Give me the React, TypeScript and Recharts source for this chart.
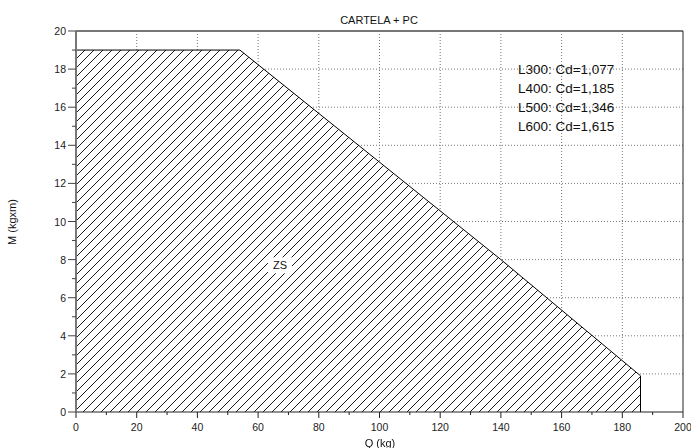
import { ComposedChart, Area, XAxis, YAxis, CartesianGrid, ReferenceDot } from "recharts";

// limit curve of the safe zone
const Q_POINTS = [0, 54, 140, 186, 186];
const M_POINTS = [19, 19, 8, 1.9, 0];

const X_TICKS = [0, 10, 20, 30, 40, 50, 60, 70, 80, 90, 100, 110, 120, 130, 140, 150, 160, 170, 180, 190, 200];
const Y_TICKS = [0, 1, 2, 3, 4, 5, 6, 7, 8, 9, 10, 11, 12, 13, 14, 15, 16, 17, 18, 19, 20];
const X_GRID = [20, 40, 60, 80, 100, 120, 140, 160, 180];
const Y_GRID = [2, 4, 6, 8, 10, 12, 14, 16, 18];

const NOTES = ["L300: Cd=1,077", "L400: Cd=1,185", "L500: Cd=1,346", "L600: Cd=1,615"];
const ZONE_LABEL = "ZS";

const FONT = '"Liberation Sans", Arial, Helvetica, sans-serif';

const data = Q_POINTS.map((q, i) => ({ q, m: M_POINTS[i] }));

function XTick({ x, y, payload }: any) {
  const major = payload.value % 20 === 0;
  return (
    <g>
      <line x1={x} x2={x} y1={y} y2={y + (major ? 6 : 3)} stroke="#222" />
      {major && (
        <text x={x} y={y + 15} textAnchor="middle" dominantBaseline="central" fontSize={10.5} fontFamily={FONT} fill="#222">
          {payload.value}
        </text>
      )}
    </g>
  );
}

function YTick({ x, y, payload }: any) {
  const major = payload.value % 2 === 0;
  return (
    <g>
      <line x1={x - (major ? 8 : 4)} x2={x} y1={y} y2={y} stroke="#444" />
      {major && (
        <text x={x - 10} y={y} textAnchor="end" dominantBaseline="central" fontSize={10.5} fontFamily={FONT} fill="#222">
          {payload.value}
        </text>
      )}
    </g>
  );
}

export default function App() {
  return (
    <div style={{ position: "fixed", left: 0, top: 0, width: 691, height: 448, background: "#fff", fontFamily: FONT }}>
      <ComposedChart width={691} height={448} data={data} margin={{ top: 30, right: 7, bottom: 35, left: 75 }}>
        <defs>
          <pattern id="hatch" patternUnits="userSpaceOnUse" width={9} height={9}>
            <rect width={9} height={9} fill="#fff" />
            <path d="M0,9 L9,0 M-2,2 L2,-2 M7,11 L11,7" stroke="#000" strokeWidth={0.9} />
          </pattern>
        </defs>
        <CartesianGrid verticalValues={X_GRID} horizontalValues={Y_GRID} stroke="#777" strokeDasharray="1 2" />
        <XAxis
          dataKey="q"
          type="number"
          domain={[0, 200]}
          ticks={X_TICKS}
          interval={0}
          tickSize={0}
          tickMargin={0}
          tick={<XTick />}
          height={1}
          axisLine={{ stroke: "#222" }}
        />
        <XAxis xAxisId="top" orientation="top" dataKey="q" type="number" domain={[0, 200]} height={1} tick={false} tickLine={false} axisLine={{ stroke: "#777", strokeWidth: 2 }} />
        <YAxis
          type="number"
          domain={[0, 20]}
          ticks={Y_TICKS}
          interval={0}
          tickSize={0}
          tickMargin={0}
          tick={<YTick />}
          width={1}
          axisLine={{ stroke: "#777", strokeWidth: 2 }}
        />
        <YAxis yAxisId="right" orientation="right" type="number" domain={[0, 20]} width={1} tick={false} tickLine={false} axisLine={{ stroke: "#222" }} />
        <Area
          type="linear"
          dataKey="m"
          baseValue={0}
          stroke="#000"
          strokeWidth={1}
          fill="url(#hatch)"
          fillOpacity={1}
          dot={false}
          activeDot={false}
          isAnimationActive={false}
        />
        <ReferenceDot
          x={67.2}
          y={7.7}
          r={0}
          ifOverflow="visible"
          shape={(p: any) => (
            <g>
              <rect x={p.cx - 12} y={p.cy - 8} width={24} height={16} fill="#fff" />
              <text x={p.cx} y={p.cy} textAnchor="middle" dominantBaseline="central" fontSize={11} fontFamily={FONT} fill="#111">
                {ZONE_LABEL}
              </text>
            </g>
          )}
        />
        {NOTES.map((note, i) => (
          <ReferenceDot
            key={note}
            x={145.6}
            y={18 - i}
            r={0}
            ifOverflow="visible"
            shape={(p: any) => (
              <text x={p.cx} y={p.cy} dominantBaseline="central" fontSize={13.5} fontFamily={FONT} fill="#111">
                {note}
              </text>
            )}
          />
        ))}
      </ComposedChart>
      <div style={{ position: "absolute", left: 379, top: 20, transform: "translate(-50%, -50%)", fontSize: 11, whiteSpace: "nowrap", color: "#111" }}>
        CARTELA + PC
      </div>
      <div style={{ position: "absolute", left: 380, top: 443, transform: "translate(-50%, -50%)", fontSize: 11, whiteSpace: "nowrap", color: "#111" }}>
        Q (kg)
      </div>
      <div style={{ position: "absolute", left: 12, top: 222, transform: "translate(-50%, -50%) rotate(-90deg)", fontSize: 11, whiteSpace: "nowrap", color: "#111" }}>
        M (kgxm)
      </div>
    </div>
  );
}
